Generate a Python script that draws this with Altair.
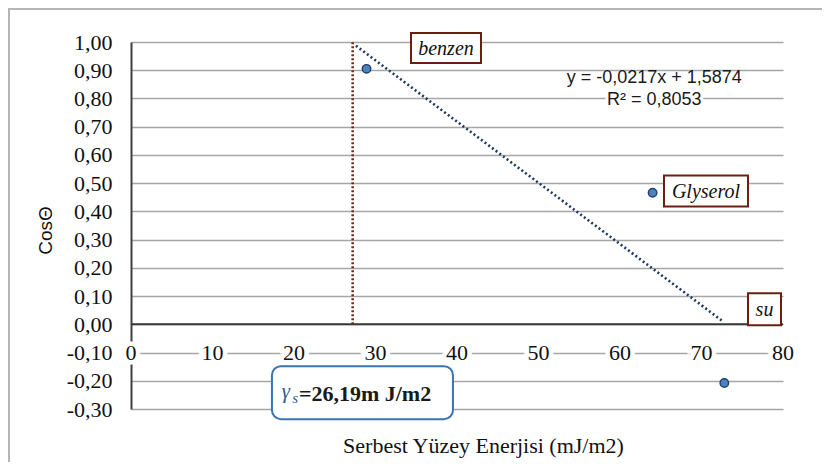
import altair as alt
import pandas as pd

# ---- data ----
solvents = ["benzen", "Glyserol", "su"]
surface_energy = [28.9, 64.0, 72.8]
cos_theta = [0.905, 0.466, -0.208]

x_ticks = [0, 10, 20, 30, 40, 50, 60, 70, 80]
y_ticks = [-0.3, -0.2, -0.1, 0.0, 0.1, 0.2, 0.3, 0.4, 0.5, 0.6, 0.7, 0.8, 0.9, 1.0]

trend_extent = [27.6, 72.6]
critical_x = [27.2]
eq_lines = ["y = -0,0217x + 1,5874", "R\u00b2 = 0,8053"]
gamma_value_text = "=26,19m J/m2"
x_title = "Serbest Y\u00fczey Enerjisi (mJ/m2)"
y_title = "Cos\u0398"

# ---- layout ----
W, H = 652, 367
KX = W / 80.0
KY = H / 1.3
SERIF = "Liberation Serif"
SANS = "Liberation Sans"

xs = alt.Scale(domain=[0, 80], nice=False, zero=False)
ys = alt.Scale(domain=[-0.3, 1.0], nice=False, zero=False)

x_axis = alt.Axis(labels=False, ticks=False, domain=False, grid=False,
                  titleX=352, titleY=43, titleBaseline="alphabetic", titleAlign="center")
y_axis = alt.Axis(values=y_ticks, grid=True, ticks=False, domain=True,
                  labelExpr="replace(replace(format(datum.value, '.2f'), '.', ','), '\u2212', '-')",
                  titleX=-86, titleY=188, titleAngle=-90,
                  titleAlign="center", titleBaseline="middle")


def X(field):
    return alt.X(field, scale=xs, axis=x_axis, title=x_title)


def Y(field):
    return alt.Y(field, scale=ys, axis=y_axis, title=y_title)


pts = pd.DataFrame({"solvent": solvents, "x": surface_energy, "y": cos_theta})

points = alt.Chart(pts).mark_point(filled=True, size=72, fill="#4f81bd", stroke="#1f3f6f",
                                   strokeWidth=1.4, opacity=1).encode(
    x=X("x:Q"), y=Y("y:Q"))

# zero line
zero_df = pd.DataFrame({"x": [x_ticks[0]], "x2": [x_ticks[-1]], "y": [0.0]})
zero_line = alt.Chart(zero_df).mark_rule(color="#383838", strokeWidth=2).encode(
    x=X("x:Q"), x2="x2:Q", y=Y("y:Q"))

# x tick labels sitting on the -0.10 gridline, with white halo
xt = pd.DataFrame({"x": x_ticks, "y": [-0.1] * len(x_ticks), "t": [str(v) for v in x_ticks]})
xt_halo = alt.Chart(xt).mark_text(font=SERIF, fontSize=22, color="white", stroke="white",
                                  strokeWidth=9, baseline="middle").encode(
    x=X("x:Q"), y=Y("y:Q"), text="t:N")
xt_text = alt.Chart(xt).mark_text(font=SERIF, fontSize=22, color="#111111",
                                  baseline="middle").encode(
    x=X("x:Q"), y=Y("y:Q"), text="t:N")

# vertical dotted line at the critical surface energy
vl_df = pd.DataFrame({"x": critical_x, "y": [0.0], "y2": [1.0]})
vline = alt.Chart(vl_df).mark_rule(color="#7a2a10", strokeWidth=2.6, strokeDash=[2, 2]).encode(
    x=X("x:Q"), y=Y("y:Q"), y2="y2:Q")

# linear trend line (regression of the points)
trend = alt.Chart(pts).transform_regression("x", "y", method="linear", extent=trend_extent).mark_line(
    color="#1f3864", strokeWidth=2.6, strokeDash=[2, 2.6]).encode(
    x=X("x:Q"), y=Y("y:Q"))

# label boxes
label_cx = [38.65, 70.55, 77.73]
label_cy = [0.979, 0.472, 0.053]
box_w_px = [70, 84, 33]
box_h_px = [30, 31, 32]
lb = pd.DataFrame({"t": solvents, "cx": label_cx, "cy": label_cy,
                   "wp": box_w_px, "hp": box_h_px})
lb["x1"] = lb.cx - lb.wp / 2 / KX
lb["x2"] = lb.cx + lb.wp / 2 / KX
lb["y1"] = lb.cy - lb.hp / 2 / KY
lb["y2"] = lb.cy + lb.hp / 2 / KY
boxes = alt.Chart(lb).mark_rect(fill="white", stroke="#6b1f10", strokeWidth=2).encode(
    x=X("x1:Q"), x2="x2:Q", y=Y("y1:Q"), y2="y2:Q")
box_text = alt.Chart(lb).mark_text(font=SERIF, fontSize=20, fontStyle="italic",
                                   color="#111111", baseline="middle", dy=1).encode(
    x=X("cx:Q"), y=Y("cy:Q"), text="t:N")

# trendline equation (second line masks the gridline behind it)
eq = pd.DataFrame({"t": eq_lines, "x": [64.2, 64.2], "y": [0.8725, 0.794]})
eq_halo = alt.Chart(eq.iloc[1:]).mark_text(font=SANS, fontSize=18, color="white", stroke="white",
                                           strokeWidth=6, baseline="middle").encode(
    x=X("x:Q"), y=Y("y:Q"), text="t:N")
eq_text = alt.Chart(eq).mark_text(font=SANS, fontSize=18, color="#1a1a1a",
                                  baseline="middle").encode(
    x=X("x:Q"), y=Y("y:Q"), text="t:N")

# gamma_s box
gcx, gcy, gw, gh = 28.4, -0.242, 181, 53
gb = pd.DataFrame({"x1": [gcx - gw / 2 / KX], "x2": [gcx + gw / 2 / KX],
                   "y1": [gcy - gh / 2 / KY], "y2": [gcy + gh / 2 / KY]})
gbox = alt.Chart(gb).mark_rect(fill="white", stroke="#3b74b3", strokeWidth=2,
                               cornerRadius=9).encode(
    x=X("x1:Q"), x2="x2:Q", y=Y("y1:Q"), y2="y2:Q")

g1 = alt.Chart(pd.DataFrame({"x": [18.5], "y": [-0.262], "t": ["\u03b3"]})).mark_text(
    font=SERIF, fontSize=21, fontStyle="italic", color="#2e5c9a", align="left",
    baseline="alphabetic").encode(x=X("x:Q"), y=Y("y:Q"), text="t:N")
g2 = alt.Chart(pd.DataFrame({"x": [19.8], "y": [-0.279], "t": ["s"]})).mark_text(
    font=SERIF, fontSize=15, fontStyle="italic", color="#2e5c9a", align="left",
    baseline="alphabetic").encode(x=X("x:Q"), y=Y("y:Q"), text="t:N")
g3 = alt.Chart(pd.DataFrame({"x": [20.6], "y": [-0.272], "t": [gamma_value_text]})).mark_text(
    font=SERIF, fontSize=22, fontWeight="bold", color="#1a1a1a", align="left",
    baseline="alphabetic").encode(x=X("x:Q"), y=Y("y:Q"), text="t:N")

# outer frame (top and left edges)
fr = pd.DataFrame({"a": [0]})
frame_top = alt.Chart(fr).mark_rule(color="#b5b5b5", strokeWidth=2).encode(
    x=alt.value(-123), x2=alt.value(700), y=alt.value(-33))
frame_left = alt.Chart(fr).mark_rule(color="#b5b5b5", strokeWidth=2).encode(
    x=alt.value(-122), y=alt.value(-34), y2=alt.value(420))

chart = alt.layer(
    zero_line, vline, trend, xt_halo, xt_text, boxes, box_text,
    eq_halo, eq_text, gbox, g1, g2, g3, frame_top, frame_left, points
).properties(
    width=W, height=H,
    autosize=alt.AutoSizeParams(type="none"),
    padding={"left": 123, "top": 34, "right": 39, "bottom": 53},
    background="white",
).configure_view(stroke=None).configure_axisX(
    titleFont=SERIF, titleFontSize=22, titleFontWeight="normal", titleColor="#111111",
).configure_axisY(
    gridColor="#a6a6a6", gridWidth=1.6, domainColor="#404040", domainWidth=2,
    labelFont=SERIF, labelFontSize=22, labelColor="#111111", labelPadding=19,
    titleFont=SANS, titleFontSize=19, titleFontWeight="normal", titleColor="#111111",
)

chart.save("out.html", embed_options={"renderer": "svg", "actions": False})
